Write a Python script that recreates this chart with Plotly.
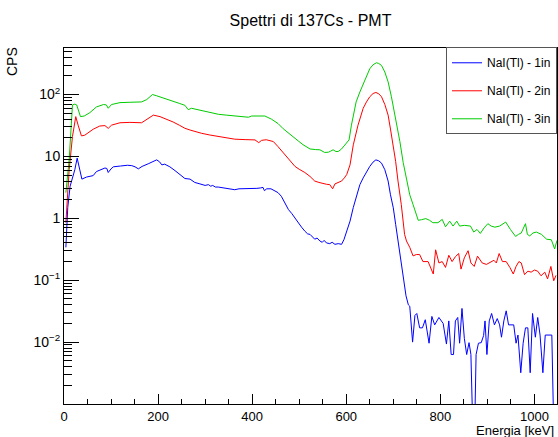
import plotly.graph_objects as go

# ---------------- data ----------------
e_1in = [4, 8, 13, 18, 23, 28, 33, 38, 48, 62, 69, 80, 87, 91, 94, 100, 105, 120, 135, 144,
         151, 158, 166, 179, 188, 197, 203, 208, 214, 225, 236, 246, 257, 268, 278, 289, 300,
         307, 312, 316, 322, 328, 340, 352, 363, 372, 385, 399, 410, 418, 423, 426, 431, 440,
         448, 455, 462, 470, 477, 484, 491, 498, 505, 512, 518, 523, 528, 533, 538, 544, 549,
         553, 558, 565, 570, 576, 583, 590, 595, 601, 608, 615, 622, 629, 636, 643, 650, 657,
         663, 669, 675, 682, 689, 694, 700, 705, 710, 714, 721, 727, 732, 735, 741, 746, 750,
         756, 762, 768, 776, 782, 788, 797, 806, 813, 818, 823, 828, 832, 837, 841, 846, 851,
         856, 861, 865, 869, 873, 876, 881, 887, 892, 895, 899, 904, 909, 915, 921, 926, 930,
         935, 940, 945, 956, 961, 965, 971, 976, 981, 986, 991, 996, 1002, 1007, 1012, 1018,
         1023, 1037, 1041, 1046]
cps_1in = [0.34, 1.5, 3.3, 4.5, 6.1, 9.4, 6.0, 4.3, 4.65, 4.9, 5.7, 6.2, 6.5, 6.4, 5.5, 6.3, 6.8,
           7.0, 7.2, 7.1, 6.8, 6.3, 6.9, 7.6, 8.3, 8.8, 8.2, 7.3, 7.5, 6.8, 5.9, 5.1, 4.4, 4.3,
           3.8, 3.6, 3.4, 3.5, 3.3, 3.4, 3.2, 3.2, 3.1, 3.0, 2.9, 3.0, 3.0, 3.0, 3.05, 3.1, 3.16,
           2.8, 3.0, 3.0, 2.8, 2.6, 2.27, 1.75, 1.39, 1.2, 1.0, 0.85, 0.72, 0.62, 0.56, 0.55,
           0.50, 0.46, 0.48, 0.43, 0.41, 0.44, 0.40, 0.39, 0.41, 0.38, 0.39, 0.38, 0.45, 0.62,
           0.9, 1.5, 2.4, 3.5, 4.5, 5.7, 6.9, 8.1, 8.8, 8.5, 7.8, 6.1, 4.0, 2.4, 1.48, 0.8, 0.45,
           0.3, 0.118, 0.056, 0.040, 0.038, 0.010, 0.027, 0.029, 0.017, 0.017, 0.023, 0.0096,
           0.026, 0.019, 0.025, 0.020, 0.0093, 0.022, 0.0063, 0.0063, 0.022, 0.025, 0.0096,
           0.035, 0.0115, 0.0063, 0.0098, 0.0063, 0.0004, 0.0004, 0.0063, 0.0096, 0.0098,
           0.0128, 0.022, 0.0063, 0.022, 0.029, 0.019, 0.024, 0.019, 0.012, 0.022, 0.032, 0.019,
           0.019, 0.0096, 0.013, 0.0032, 0.0096, 0.017, 0.017, 0.0032, 0.029, 0.012, 0.025,
           0.013, 0.0032, 0.013, 0.013, 0.0004, 0.0004]

e_2in = [4, 11, 18, 25, 30, 37, 44, 53, 62, 76, 87, 94, 101, 119, 140, 165, 177, 190, 204, 218,
         232, 245, 257, 268, 280, 292, 310, 328, 345, 363, 385, 406, 414, 420, 430, 445, 455,
         463, 470, 480, 491, 500, 512, 523, 533, 542, 551, 558, 565, 571, 576, 583, 590, 596,
         601, 608, 615, 625, 636, 643, 650, 657, 663, 669, 675, 682, 689, 694, 700, 705, 710,
         717, 724, 728, 735, 742, 749, 756, 763, 774, 785, 790, 797, 804, 811, 818, 825, 832,
         839, 844, 851, 859, 865, 872, 879, 889, 898, 907, 914, 919, 925, 932, 940, 948, 955,
         961, 967, 972, 979, 986, 993, 1000, 1007, 1014, 1022, 1028, 1035, 1041, 1046]
cps_2in = [0.85, 6.1, 21, 44, 32, 21.5, 22, 25, 27.5, 31, 31.5, 28.4, 32, 35, 35.5, 35, 40, 46.5,
           44, 40, 36, 32, 28.5, 26.7, 25, 23.7, 22.2, 21, 20, 19, 18.7, 18.5, 16.7, 18.2, 18.6,
           17.4, 14.4, 12.3, 10.6, 8.5, 6.9, 6.2, 5.5, 4.75, 4.0, 3.8, 3.6, 3.55, 3.5, 3.0, 3.6,
           3.8, 4.0, 4.5, 5.1, 7.3, 15.4, 32, 60, 76, 92, 104, 108, 103, 92, 69, 46.5, 27.7,
           15.4, 8.3, 4.0, 1.67, 0.55, 0.43, 0.34, 0.247, 0.26, 0.26, 0.2, 0.2, 0.126, 0.31,
           0.19, 0.2, 0.161, 0.253, 0.2, 0.24, 0.27, 0.151, 0.23, 0.3, 0.19, 0.167, 0.245, 0.19,
           0.18, 0.2, 0.21, 0.19, 0.27, 0.2, 0.2, 0.16, 0.126, 0.167, 0.2, 0.19, 0.123, 0.14,
           0.135, 0.146, 0.14, 0.118, 0.135, 0.105, 0.167, 0.098, 0.12]

e_3in = [4, 11, 18, 23, 27, 31, 35, 43, 55, 69, 84, 90, 94, 101, 119, 140, 165, 176, 188, 196,
         204, 218, 232, 245, 257, 264, 271, 280, 292, 310, 328, 345, 363, 380, 392, 399, 415,
         427, 441, 455, 466, 477, 488, 498, 508, 519, 523, 535, 544, 554, 562, 567, 572, 578,
         583, 590, 597, 606, 611, 616, 621, 629, 636, 643, 650, 657, 664, 669, 675, 682, 689,
         696, 703, 708, 714, 721, 728, 735, 742, 748, 753, 760, 769, 777, 784, 795, 804, 811,
         820, 827, 835, 841, 851, 864, 871, 878, 885, 893, 901, 908, 916, 926, 932, 939, 949,
         960, 966, 972, 981, 985, 990, 997, 1004, 1010, 1015, 1026, 1036, 1043, 1048]
cps_3in = [2.6, 8.8, 68, 70, 68, 55, 44, 45, 51, 63, 69, 68, 60, 69, 74, 75, 76, 83, 100, 96,
           92, 85, 78, 72, 67, 57, 60, 58, 56, 52, 48, 46.5, 45, 44, 43, 45, 45.5, 45, 40, 34,
           28, 23.7, 20.5, 17.8, 15.5, 13.6, 13.2, 12.9, 12.8, 11.6, 11.7, 12.2, 12.8, 12, 12,
           13.2, 15.3, 18.5, 32, 50, 76, 110, 150, 204, 261, 303, 326, 318, 295, 231, 160, 92,
           49.5, 30, 17.4, 8.0, 4.5, 2.4, 1.67, 1.2, 0.93, 0.95, 0.99, 0.93, 0.85, 0.85, 0.96,
           0.73, 0.9, 0.75, 0.9, 0.75, 0.77, 0.75, 0.6, 0.66, 0.57, 0.7, 0.82, 0.75, 0.72, 0.75,
           0.8, 0.87, 0.66, 0.51, 0.55, 0.58, 0.82, 0.55, 0.52, 0.58, 0.6, 0.57, 0.55, 0.46,
           0.45, 0.32, 0.44]

series_names = ["NaI(Tl) - 1in", "NaI(Tl) - 2in", "NaI(Tl) - 3in"]
series_colors = ["#0000ff", "#ff0000", "#00cc00"]

x_tickvals = [0, 200, 400, 600, 800, 1000]
y_tickvals = [0.01, 0.1, 1, 10, 100]
y_ticktext = ["10<sup>\u22122</sup>", "10<sup>\u22121</sup>", "1", "10", "10<sup>2</sup>"]

title_text = "Spettri di 137Cs - PMT"
x_title = "Energia [keV]"
y_title = "CPS"

# ---------------- figure ----------------
FONT = "Liberation Sans, Arial, sans-serif"
fig = go.Figure()
for i, (ex, ys, nm, col) in enumerate(zip([e_1in, e_2in, e_3in], [cps_1in, cps_2in, cps_3in],
                                          series_names, series_colors)):
    fig.add_trace(go.Scatter(x=ex, y=ys, mode="lines", name=nm, legendgroup=f"g{i}",
                             line=dict(color=col, width=1)))

y_minor = []
for dec in [0.001, 0.01, 0.1, 1, 10, 100]:
    for k in range(2, 10):
        v = k * dec
        if v < 560:
            y_minor.append(v)

fig.update_layout(
    width=558, height=437,
    margin=dict(l=64, r=1, t=48, b=33),
    paper_bgcolor="white", plot_bgcolor="white",
    font=dict(family=FONT, size=14, color="black"),
    showlegend=True,
    title=dict(text=title_text, x=0.5, xref="paper", xanchor="center",
               y=1 - 20 / 437, yref="container", yanchor="middle",
               font=dict(size=16, family=FONT, color="black")),
    legend=dict(x=1, xanchor="right", y=1.002, yanchor="top", xref="paper", yref="paper",
                bgcolor="white", bordercolor="#555555", borderwidth=1,
                font=dict(size=12, family=FONT, color="black"),
                itemwidth=30, tracegroupgap=9),
    xaxis=dict(range=[0, 1048], showgrid=False, zeroline=False,
               showline=True, linecolor="black", linewidth=1, mirror=True,
               ticks="inside", ticklen=10, tickcolor="black", tickwidth=1,
               tickvals=x_tickvals, ticktext=[str(v) for v in x_tickvals],
               tickfont=dict(size=13),
               minor=dict(ticks="inside", ticklen=5, tickcolor="black",
                          dtick=50, tick0=0, showgrid=False)),
    yaxis=dict(type="log", range=[-3, 2.752], showgrid=False, zeroline=False,
               showline=True, linecolor="black", linewidth=1, mirror=True,
               ticks="inside", ticklen=15, tickcolor="black", tickwidth=1,
               tickvals=y_tickvals, ticktext=y_ticktext,
               tickfont=dict(size=14),
               minor=dict(ticks="inside", ticklen=8, tickcolor="black",
                          tickvals=y_minor, showgrid=False)),
)

fig.add_annotation(text=y_title, xref="paper", yref="paper",
                   x=(12 - 64) / 493, y=(404 - 62) / 356, showarrow=False,
                   textangle=-90, xanchor="center", yanchor="middle",
                   font=dict(size=14, family=FONT, color="black"))
fig.add_annotation(text=x_title, xref="paper", yref="paper",
                   x=(556 - 64) / 493, y=(404 - 430) / 356, showarrow=False,
                   xanchor="right", yanchor="middle",
                   font=dict(size=13, family=FONT, color="black"))

fig.write_html("out.html")
